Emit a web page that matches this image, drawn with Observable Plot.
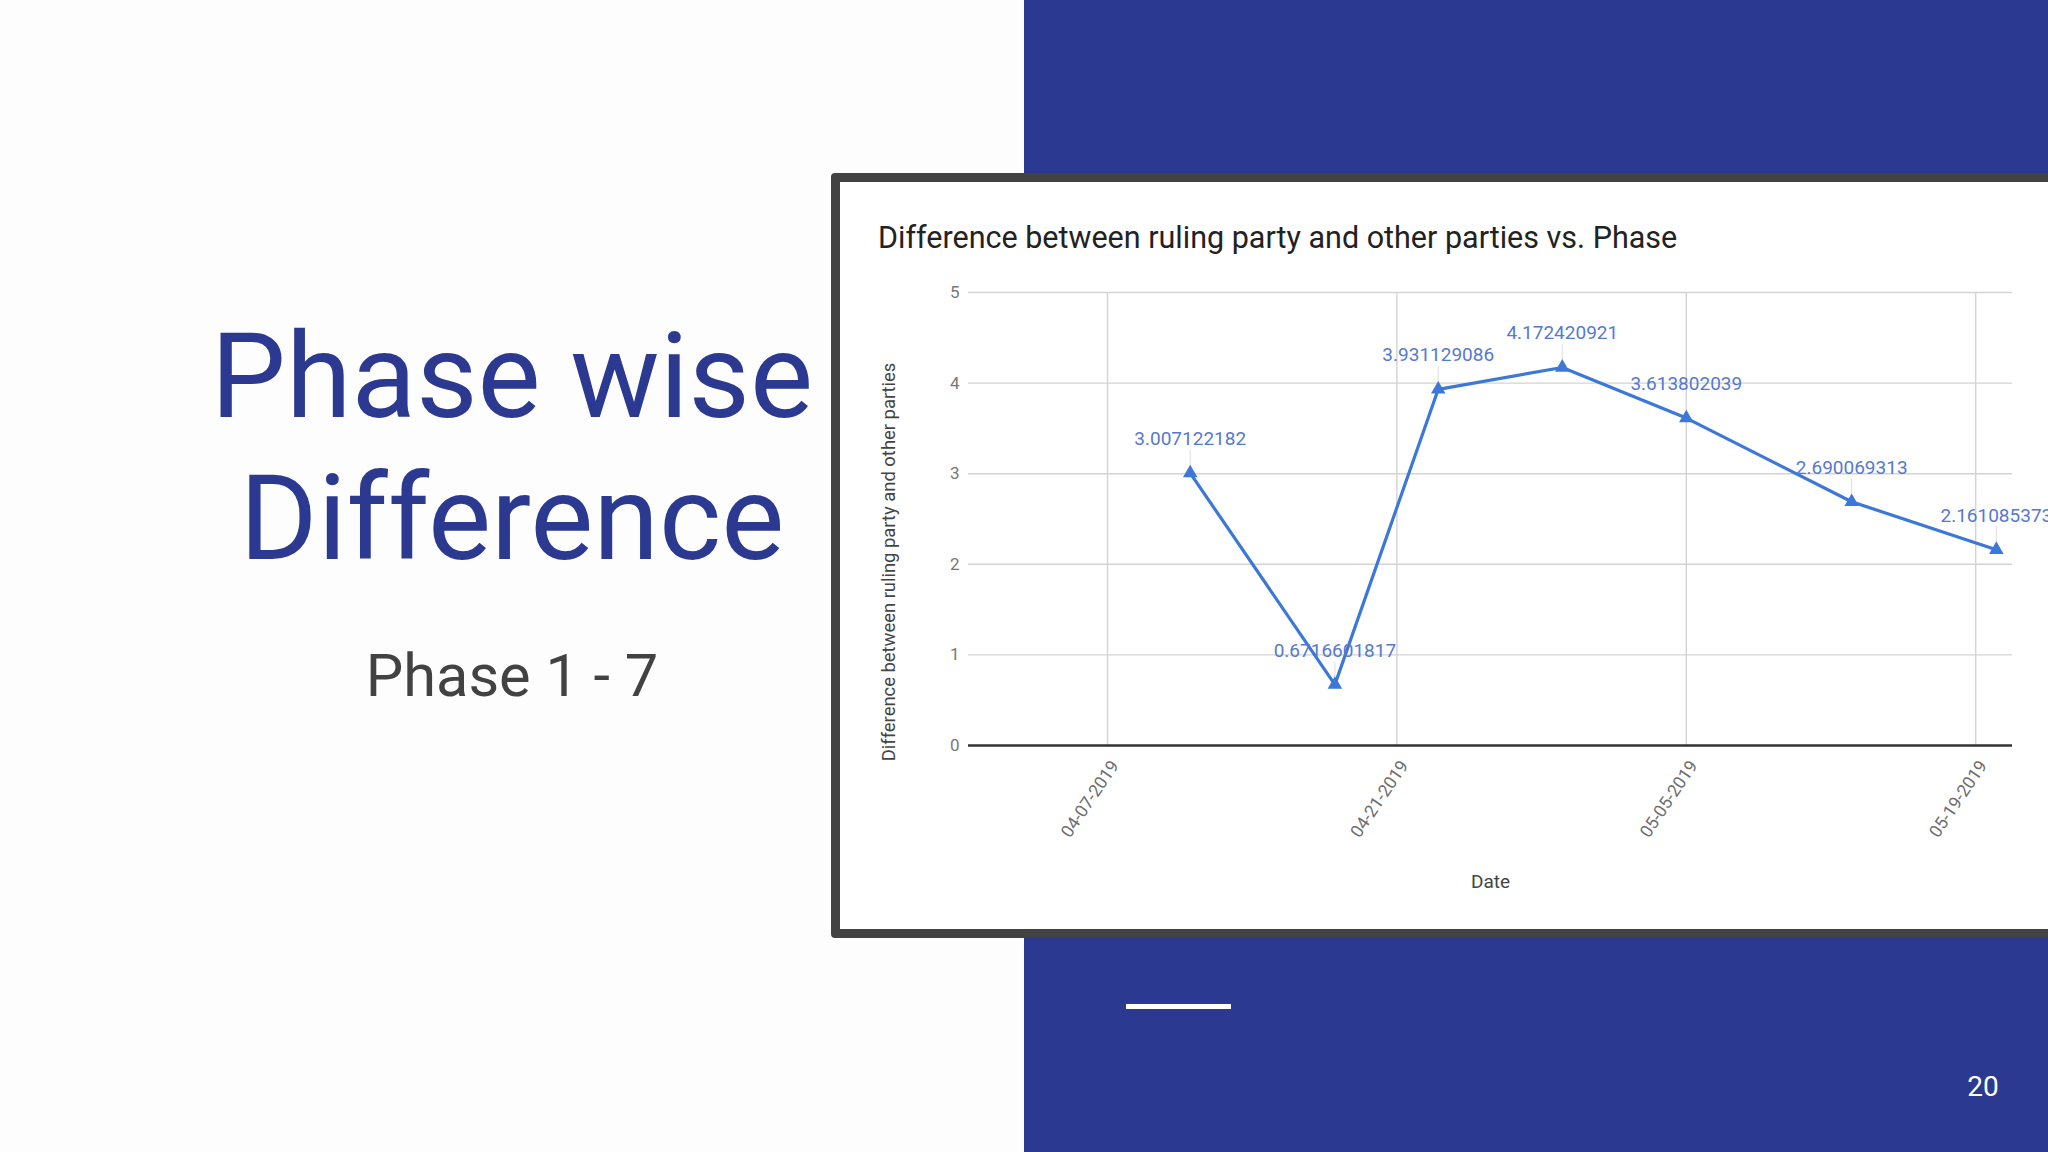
<!DOCTYPE html>
<html>
<head>
<meta charset="utf-8">
<script src="https://cdn.jsdelivr.net/npm/d3@7"></script>
<script src="https://cdn.jsdelivr.net/npm/@observablehq/plot@0.6"></script>
<style>
  html, body { margin: 0; padding: 0; width: 2048px; height: 1152px; overflow: hidden; background: #fdfdfd; font-family: Roboto, sans-serif; }
  #slide { position: relative; width: 2048px; height: 1152px; overflow: hidden; background: #fdfdfd; }
  .blue { position: absolute; left: 1024px; top: 0; width: 1024px; height: 1152px; background: #2c3990; }
  .title { position: absolute; left: 0; top: 306px; width: 1024px; text-align: center; font-size: 119px; line-height: 142px; color: #2c3990; font-family: Roboto, sans-serif; }
  .sub { position: absolute; left: 0; top: 646.6px; width: 1024px; text-align: center; font-size: 59.5px; line-height: 59.5px; color: #424242; font-family: Roboto, sans-serif; }
  .frame { position: absolute; left: 831px; top: 173px; width: 1400px; height: 747px; border: 9px solid #424242; border-radius: 4px; background: #ffffff; }
  .ctitle { position: absolute; left: 878px; top: 223px; font-size: 30.5px; line-height: 30.5px; color: #222222; white-space: nowrap; font-family: Roboto, sans-serif; }
  #chart { position: absolute; left: 840px; top: 262px; width: 1208px; height: 666px; }
  .bar { position: absolute; left: 1126px; top: 1004px; width: 105px; height: 5px; background: #ffffff; }
  .num { position: absolute; left: 1953px; top: 1073px; width: 60px; text-align: center; font-size: 28px; line-height: 28px; color: #ffffff; font-family: Roboto, sans-serif; }
</style>
</head>
<body>
<div id="slide">
  <div class="blue"></div>
  <div class="title">Phase wise<br>Difference</div>
  <div class="sub">Phase 1 - 7</div>
  <div class="frame"></div>
  <div class="ctitle">Difference between ruling party and other parties vs. Phase</div>
  <div id="chart"></div>
  <div class="bar"></div>
  <div class="num">20</div>
</div>
<script>
// ---- data ----
const phases = ["Phase 1", "Phase 2", "Phase 3", "Phase 4", "Phase 5", "Phase 6", "Phase 7"];
const phaseDates = ["2019-04-11", "2019-04-18", "2019-04-23", "2019-04-29", "2019-05-05", "2019-05-13", "2019-05-20"];
const differences = [3.007122182, 0.6716601817, 3.931129086, 4.172420921, 3.613802039, 2.690069313, 2.161085373];
const xTickDates = ["2019-04-07", "2019-04-21", "2019-05-05", "2019-05-19"];
const yTicks = [0, 1, 2, 3, 4, 5];
const xDomain = ["2019-03-31T06:36:00Z", "2019-05-20T18:45:00Z"];
const yDomain = [0, 5];
const yLabel = "Difference between ruling party and other parties";
const xLabel = "Date";

const data = phases.map((p, i) => ({phase: p, date: new Date(phaseDates[i]), value: differences[i]}));
const ticks = xTickDates.map(d => new Date(d));
const fmt = d3.utcFormat("%m-%d-%Y");

const lineColor = "#3c78d8";
const gridColor = "#d3d3d3";

const chart = Plot.plot({
  width: 1208,
  height: 666,
  marginLeft: 128,
  marginRight: 36,
  marginTop: 30,
  marginBottom: 183,
  style: {fontFamily: "Roboto, sans-serif", background: "transparent", overflow: "visible"},
  x: {type: "utc", domain: xDomain.map(d => new Date(d)), axis: null},
  y: {domain: yDomain, axis: null},
  marks: [
    Plot.ruleY(yTicks.filter(d => d > 0), {stroke: gridColor, strokeWidth: 1.4}),
    Plot.ruleX(ticks, {y1: yDomain[0], y2: yDomain[1], stroke: gridColor, strokeWidth: 1.4}),
    Plot.text(yTicks, {y: d => d, frameAnchor: "left", dx: -9, textAnchor: "end", fontSize: 17, fill: "#777777"}),
    Plot.text(ticks, {x: d => d, frameAnchor: "bottom", text: d => fmt(d), rotate: -56, textAnchor: "end", lineAnchor: "bottom", dx: 12, dy: 20, fontSize: 17.5, fill: "#6e6e6e"}),
    Plot.vector(data, {x: "date", y: "value", length: 16, rotate: 0, anchor: "start", dy: -7, stroke: "#dddddd", strokeWidth: 1,
      shape: {draw(ctx, l) { ctx.moveTo(0, 0); ctx.lineTo(0, -l); }}}),
    Plot.line(data, {x: "date", y: "value", stroke: lineColor, strokeWidth: 3.2}),
    Plot.dot(data, {x: "date", y: "value", symbol: "triangle", r: 5.4, fill: lineColor, stroke: null}),
    Plot.text(data, {x: "date", y: "value", text: d => String(d.value), dy: -28, lineAnchor: "bottom", fontSize: 19, fill: "#5679cf"}),
    Plot.ruleY([0], {stroke: "#333333", strokeWidth: 2.5}),
    Plot.text([yLabel], {frameAnchor: "left", rotate: -90, textAnchor: "middle", lineAnchor: "middle", dx: -79, dy: 43, fontSize: 18.4, fill: "#444444"}),
    Plot.text([xLabel], {frameAnchor: "bottom", textAnchor: "middle", dy: 142, fontSize: 19, fill: "#444444"})
  ]
});
document.getElementById("chart").appendChild(chart);
</script>
</body>
</html>
